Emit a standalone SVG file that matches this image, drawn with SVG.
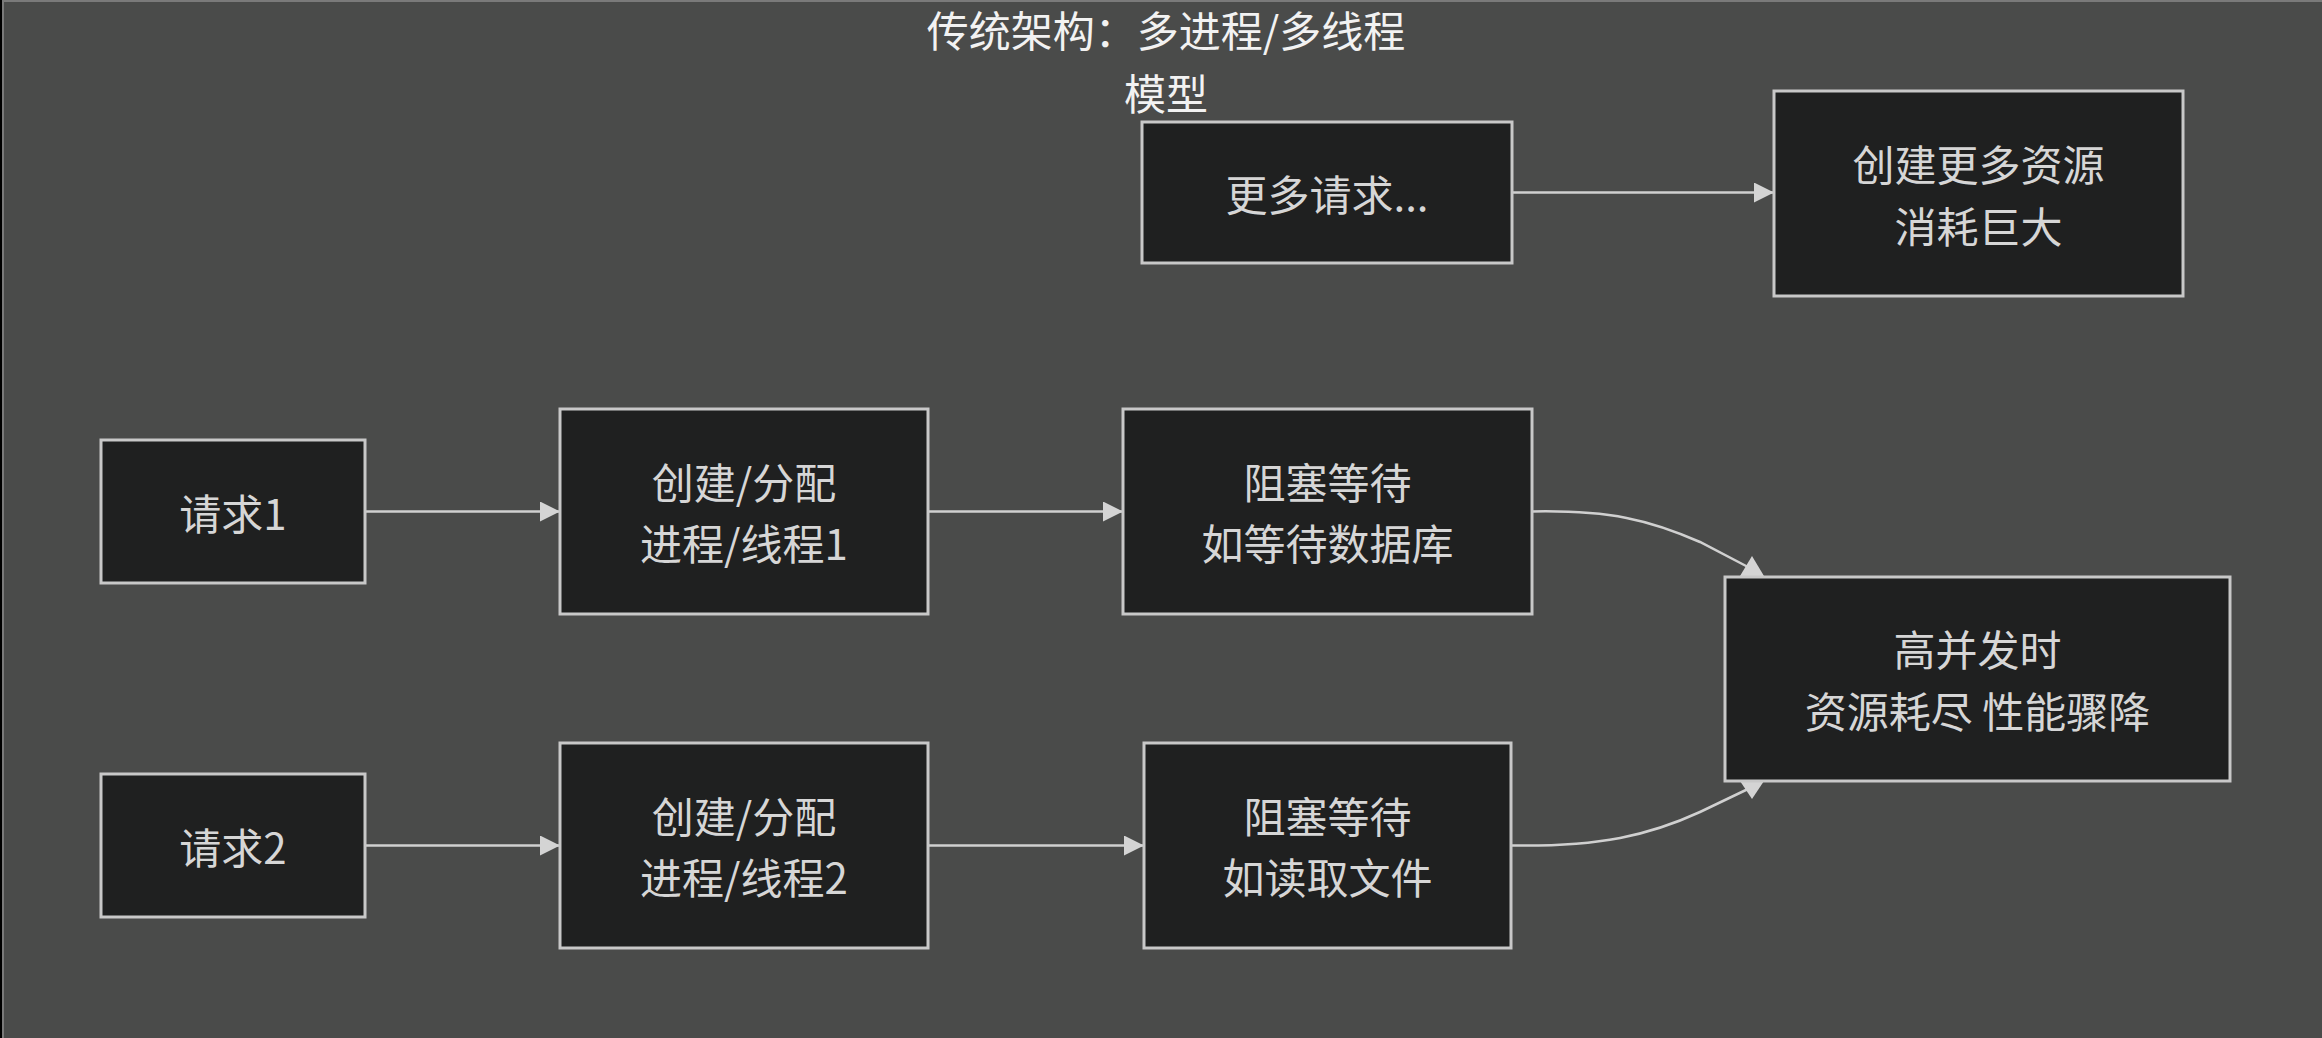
<svg xmlns="http://www.w3.org/2000/svg" width="2322" height="1038" viewBox="0 0 2322 1038">
  <defs>
    <marker id="arrow" viewBox="0 0 10 10" refX="10" refY="5" markerUnits="userSpaceOnUse" markerWidth="22" markerHeight="20" orient="auto">
      <path d="M0,0 L10,5 L0,10 z" fill="#d4d4d4"/>
    </marker>
    <style>
      .node rect { fill: #1f2020; stroke: #c8c8c8; stroke-width: 3; }
      .node text { fill: #d6d6d6; font-family: "Noto Sans CJK SC", "Noto Sans", sans-serif; font-size: 42px; text-anchor: middle; dominant-baseline: central; }
      .title { fill: #f2f2f2; font-family: "Noto Sans CJK SC", "Noto Sans", sans-serif; font-size: 42px; text-anchor: middle; dominant-baseline: central; }
      .edge { fill: none; stroke: #d0d0d0; stroke-width: 2.5; }
      .head { fill: #d4d4d4; }
    </style>
  </defs>
  <rect x="0" y="0" width="2322" height="1038" fill="#000"/>
  <rect id="cluster" x="3" y="1" width="2340" height="1060" fill="#4a4b4a" stroke="#7a7a7a" stroke-width="2"/>
  <g id="title">
    <text class="title" x="1166" y="28">传统架构：多进程/多线程</text>
    <text class="title" x="1166" y="91">模型</text>
  </g>

  <g id="connectors">
    <path class="edge" d="M365,511.5 L560,511.5" marker-end="url(#arrow)"/>
    <path class="edge" d="M928,511.5 L1123,511.5" marker-end="url(#arrow)"/>
    <path class="edge" d="M365,845.5 L560,845.5" marker-end="url(#arrow)"/>
    <path class="edge" d="M928,845.5 L1144,845.5" marker-end="url(#arrow)"/>
    <path class="edge" d="M1512,192.5 L1774,192.5" marker-end="url(#arrow)"/>
    <path class="edge" d="M1532,511.5 C1610,510 1650,520 1700,542 L1748,567"/>
    <polygon class="head" points="1752,556 1740,576 1764,576"/>
    <path class="edge" d="M1511,845.5 C1600,847 1650,835 1700,812 L1748,789"/>
    <polygon class="head" points="1752,799 1740,781 1764,781"/>
  </g>

  <g id="more-requests" class="node">
    <rect x="1142" y="122" width="370" height="141"/>
    <text x="1327" y="192.5">更多请求...</text>
  </g>
  <g id="more-resources" class="node">
    <rect x="1774" y="91" width="409" height="205"/>
    <text x="1978.5" y="162">创建更多资源</text>
    <text x="1978.5" y="224">消耗巨大</text>
  </g>
  <g id="req1" class="node">
    <rect x="101" y="440" width="264" height="143"/>
    <text x="233" y="511.5">请求1</text>
  </g>
  <g id="alloc1" class="node">
    <rect x="560" y="409" width="368" height="205"/>
    <text x="744" y="480">创建/分配</text>
    <text x="744" y="541">进程/线程1</text>
  </g>
  <g id="block1" class="node">
    <rect x="1123" y="409" width="409" height="205"/>
    <text x="1327.5" y="480">阻塞等待</text>
    <text x="1327.5" y="541">如等待数据库</text>
  </g>
  <g id="req2" class="node">
    <rect x="101" y="774" width="264" height="143"/>
    <text x="233" y="845.5">请求2</text>
  </g>
  <g id="alloc2" class="node">
    <rect x="560" y="743" width="368" height="205"/>
    <text x="744" y="814">创建/分配</text>
    <text x="744" y="875">进程/线程2</text>
  </g>
  <g id="block2" class="node">
    <rect x="1144" y="743" width="367" height="205"/>
    <text x="1327.5" y="814">阻塞等待</text>
    <text x="1327.5" y="875">如读取文件</text>
  </g>
  <g id="overload" class="node">
    <rect x="1725" y="577" width="505" height="204"/>
    <text x="1977.5" y="647">高并发时</text>
    <text x="1977.5" y="709">资源耗尽 性能骤降</text>
  </g>
</svg>
